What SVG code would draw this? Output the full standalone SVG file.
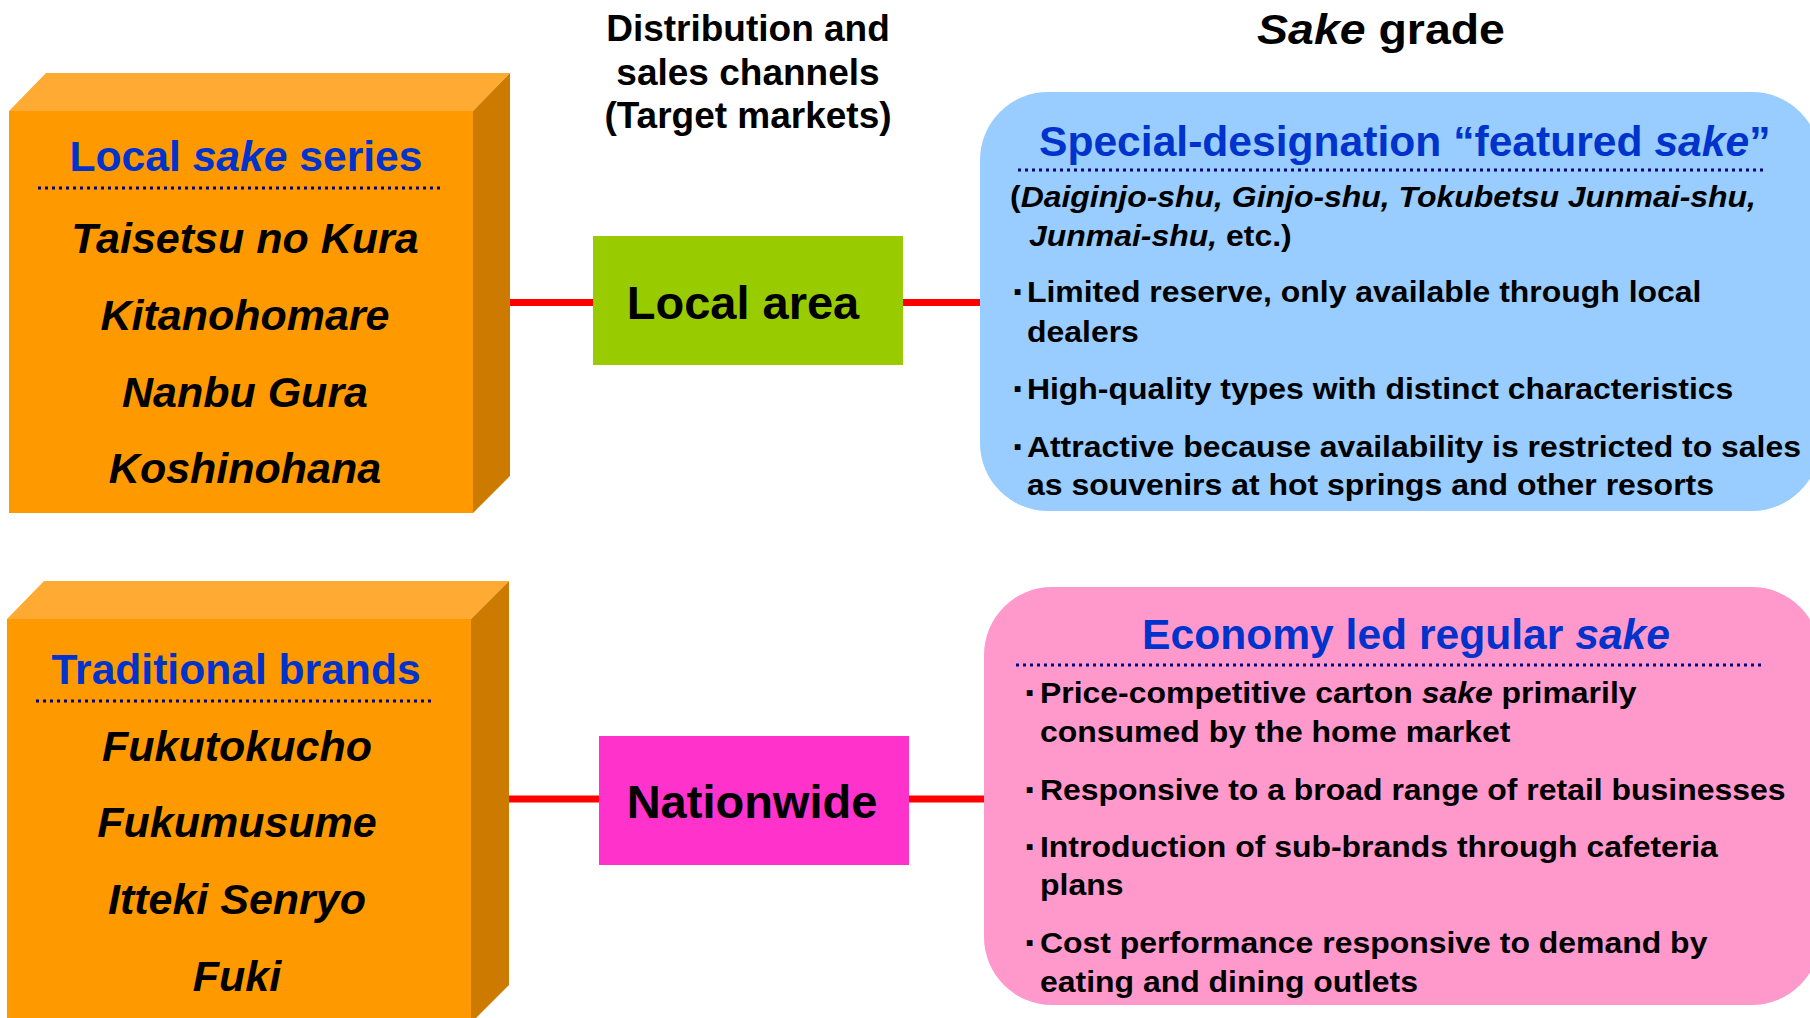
<svg xmlns="http://www.w3.org/2000/svg" width="1810" height="1018" viewBox="0 0 1810 1018">
  <style>
    text { font-family: "Liberation Sans", Arial, sans-serif; font-weight: bold; fill: #000; }
    .colhead { font-size: 37px; text-anchor: middle; }
    .hd { font-size: 42.6px; fill: #0033CC; }
    .brand { font-size: 43px; font-style: italic; text-anchor: middle; }
    .ch { font-size: 47px; text-anchor: middle; }
    .body { font-size: 30px; }
    .bul { font-size: 38px; }
    .it { font-style: italic; }
    .rule { stroke: #000080; stroke-width: 3; stroke-dasharray: 3 4; fill: none; }
    .link { stroke: #FF0000; stroke-width: 7; fill: none; }
    .front { fill: #FF9900; }
    .top { fill: #FFAA33; }
    .side { fill: #CC7A00; }
  </style>

  <!-- column headings -->
  <g id="heading-channels">
    <text class="colhead" x="748" y="41">Distribution and</text>
    <text class="colhead" x="748" y="85">sales channels</text>
    <text class="colhead" x="748" y="128">(Target markets)</text>
  </g>
  <g id="heading-grade">
    <text font-size="43" text-anchor="middle" transform="matrix(1.08 0 0 1 1381 44)"><tspan class="it">Sake</tspan> grade</text>
  </g>

  <!-- red links between brand groups, channels and grades -->
  <g id="connectors">
    <line class="link" x1="509" y1="302.5" x2="594" y2="302.5"/>
    <line class="link" x1="902" y1="302.5" x2="981" y2="302.5"/>
    <line class="link" x1="508" y1="799" x2="600" y2="799"/>
    <line class="link" x1="908" y1="799" x2="985" y2="799"/>
  </g>

  <!-- brand block: local sake series -->
  <g id="box-local">
    <polygon class="top" points="9,111 46,73 510,73 473,111"/>
    <polygon class="side" points="473,111 510,73 510,476 473,513"/>
    <rect class="front" x="9" y="111" width="464" height="402"/>
    <text class="hd" x="246" y="171" text-anchor="middle">Local <tspan class="it">sake</tspan> series</text>
    <line class="rule" x1="38" y1="188" x2="441" y2="188"/>
    <text class="brand" x="245" y="253">Taisetsu no Kura</text>
    <text class="brand" x="245" y="330">Kitanohomare</text>
    <text class="brand" x="245" y="407">Nanbu Gura</text>
    <text class="brand" x="245" y="483">Koshinohana</text>
  </g>

  <!-- brand block: traditional brands -->
  <g id="box-traditional">
    <polygon class="top" points="7,619 44,581 509,581 471,619"/>
    <polygon class="side" points="471,619 509,581 509,985 471,1023"/>
    <rect class="front" x="7" y="619" width="464" height="404"/>
    <text class="hd" x="236" y="684" text-anchor="middle">Traditional brands</text>
    <line class="rule" x1="36" y1="701" x2="433" y2="701"/>
    <text class="brand" x="237" y="761">Fukutokucho</text>
    <text class="brand" x="237" y="837">Fukumusume</text>
    <text class="brand" x="237" y="914">Itteki Senryo</text>
    <text class="brand" x="237" y="991">Fuki</text>
  </g>

  <!-- channel: local area -->
  <g id="channel-local">
    <rect x="593" y="236" width="310" height="129" fill="#99CC00"/>
    <text class="ch" x="743" y="319">Local area</text>
  </g>

  <!-- channel: nationwide -->
  <g id="channel-nationwide">
    <rect x="599" y="736" width="310" height="129" fill="#FF33CC"/>
    <text class="ch" x="752" y="818">Nationwide</text>
  </g>

  <!-- grade: special designation -->
  <g id="grade-special">
    <rect x="980" y="92" width="840" height="419" rx="68" ry="68" fill="#99CCFF"/>
    <text class="hd" x="1039" y="156">Special-designation “featured <tspan class="it">sake</tspan>”</text>
    <line class="rule" x1="1018" y1="170" x2="1766" y2="170"/>
    <text class="body" transform="matrix(1.065 0 0 1 1010 207)">(<tspan class="it">Daiginjo-shu, Ginjo-shu, Tokubetsu Junmai-shu,</tspan></text>
    <text class="body" transform="matrix(1.065 0 0 1 1029 246)"><tspan class="it">Junmai-shu,</tspan> etc.)</text>
    <text class="body" transform="matrix(1.065 0 0 1 1012 302)"><tspan class="bul" dy="3">·</tspan><tspan x="14" dy="-3">Limited reserve, only available through local</tspan></text>
    <text class="body" transform="matrix(1.065 0 0 1 1027 342)">dealers</text>
    <text class="body" transform="matrix(1.065 0 0 1 1012 399)"><tspan class="bul" dy="3">·</tspan><tspan x="14" dy="-3">High-quality types with distinct characteristics</tspan></text>
    <text class="body" transform="matrix(1.065 0 0 1 1012 457)"><tspan class="bul" dy="3">·</tspan><tspan x="14" dy="-3">Attractive because availability is restricted to sales</tspan></text>
    <text class="body" transform="matrix(1.065 0 0 1 1027 495)">as souvenirs at hot springs and other resorts</text>
  </g>

  <!-- grade: economy regular -->
  <g id="grade-economy">
    <rect x="984" y="587" width="836" height="418" rx="68" ry="68" fill="#FF99CC"/>
    <text class="hd" x="1406" y="649" text-anchor="middle">Economy led regular <tspan class="it">sake</tspan></text>
    <line class="rule" x1="1016" y1="665" x2="1765" y2="665"/>
    <text class="body" transform="matrix(1.065 0 0 1 1024 703)"><tspan class="bul" dy="3">·</tspan><tspan x="15" dy="-3">Price-competitive carton <tspan class="it">sake</tspan> primarily</tspan></text>
    <text class="body" transform="matrix(1.065 0 0 1 1040 742)">consumed by the home market</text>
    <text class="body" transform="matrix(1.065 0 0 1 1024 800)"><tspan class="bul" dy="3">·</tspan><tspan x="15" dy="-3">Responsive to a broad range of retail businesses</tspan></text>
    <text class="body" transform="matrix(1.065 0 0 1 1024 857)"><tspan class="bul" dy="3">·</tspan><tspan x="15" dy="-3">Introduction of sub-brands through cafeteria</tspan></text>
    <text class="body" transform="matrix(1.065 0 0 1 1040 895)">plans</text>
    <text class="body" transform="matrix(1.065 0 0 1 1024 953)"><tspan class="bul" dy="3">·</tspan><tspan x="15" dy="-3">Cost performance responsive to demand by</tspan></text>
    <text class="body" transform="matrix(1.065 0 0 1 1040 992)">eating and dining outlets</text>
  </g>
</svg>
